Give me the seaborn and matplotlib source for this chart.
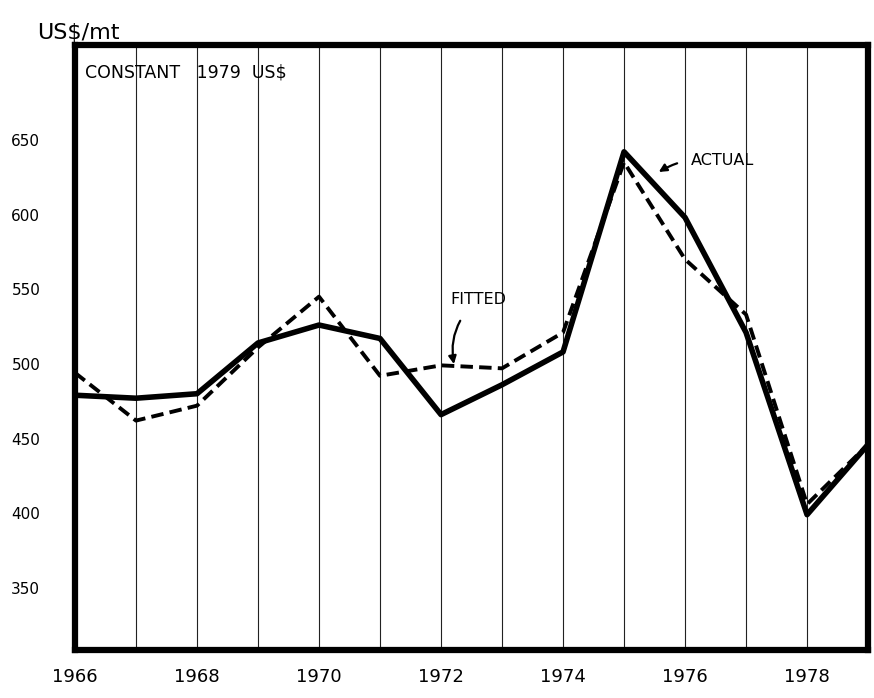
import matplotlib
matplotlib.use("Agg")
import matplotlib.pyplot as plt
import seaborn as sns
import pandas as pd

# Copper price, constant 1979 US$ per metric ton
years = list(range(1966, 1980))
actual = [479, 477, 480, 514, 526, 517, 466, 486, 508, 642, 598, 521, 399, 446]
fitted = [494, 462, 472, 511, 545, 492, 499, 497, 521, 635, 570, 533, 406, 446]

y_ticks = [350, 400, 450, 500, 550, 600, 650]
x_ticks = [1966, 1968, 1970, 1972, 1974, 1976, 1978]

df = pd.DataFrame({"year": years, "actual": actual, "fitted": fitted})

sns.set_theme(style="white")
plt.rcParams["font.family"] = ["DejaVu Sans"]
plt.rcParams["text.color"] = "black"

fig = plt.figure(figsize=(8.74, 6.98), dpi=100)
ax = fig.add_axes([0.0858, 0.069, 0.9074, 0.8665])

# thin vertical rule at every year
for yr in years[1:-1]:
    ax.axvline(yr, color="#222222", lw=0.8, zorder=1)

sns.lineplot(data=df, x="year", y="fitted", ax=ax, color="black",
             lw=2.8, linestyle=(0, (3.2, 1.6)), zorder=3)
sns.lineplot(data=df, x="year", y="actual", ax=ax, color="black",
             lw=4.0, zorder=4)

ax.set_xlim(1966, 1979)
ax.set_ylim(308.5, 713.5)
ax.set_xticks(x_ticks)
ax.set_xticklabels([str(t) for t in x_ticks], fontsize=13)
ax.set_yticks(y_ticks)
ax.set_yticklabels([str(t) for t in y_ticks], fontsize=11)
ax.tick_params(axis="y", direction="in", length=4, width=1.2, pad=25,
               colors="black", labelcolor="black")
ax.tick_params(axis="x", length=0, pad=13, colors="black", labelcolor="black")
ax.set_xlabel("")
ax.set_ylabel("")

for side in ["left", "right", "top", "bottom"]:
    ax.spines[side].set_visible(True)
    ax.spines[side].set_color("black")
    ax.spines[side].set_linewidth(4.5)

fig.text(0.042, 0.953, "US$/mt", fontsize=16, ha="left", va="center",
         color="black")
ax.text(0.012, 0.955, "CONSTANT   1979  US$", transform=ax.transAxes,
        fontsize=12.5, ha="left", va="center", color="black")

# series annotations with curved pointers
ax.annotate("FITTED", xy=(1972.22, 498), xytext=(1972.15, 543),
            fontsize=11.5, ha="left", va="center", color="black",
            arrowprops=dict(arrowstyle="-|>", color="black", lw=1.6,
                            connectionstyle="arc3,rad=0.3",
                            shrinkA=9, shrinkB=2))
ax.annotate("ACTUAL", xy=(1975.55, 628), xytext=(1976.1, 636),
            fontsize=11.5, ha="left", va="center", color="black",
            arrowprops=dict(arrowstyle="-|>", color="black", lw=1.6,
                            connectionstyle="arc3,rad=0.2",
                            shrinkA=8, shrinkB=1))

fig.savefig("out.png", dpi=100, facecolor="white")
